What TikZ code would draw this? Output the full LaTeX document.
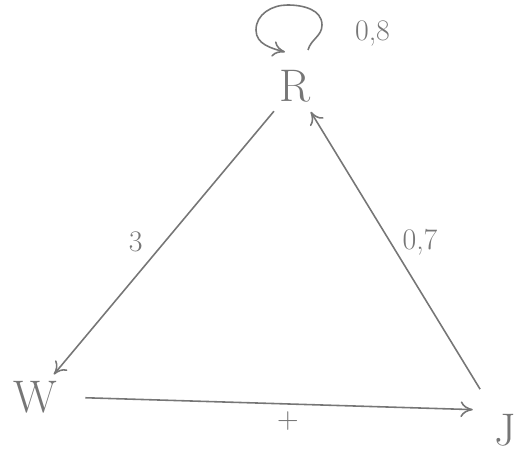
\documentclass[tikz,border=0pt]{standalone}
\usepackage{amsmath}
\usepackage{tikz}
\usetikzlibrary{arrows.meta}
\definecolor{pencil}{RGB}{118,118,118}

\begin{document}
\begin{tikzpicture}[x=1cm, y=1cm, >={To[length=7pt,width=9pt]},
    state/.style={text=pencil, font=\fontsize{26}{30}\selectfont, inner sep=2pt},
    weight/.style={text=pencil, font=\fontsize{17}{20}\selectfont},
    link/.style={draw=pencil, line width=0.9pt, ->}]
    \useasboundingbox (0,0) rectangle (10.4,9.18);

    \node[state] (R) at (5.9, 7.46) {R};
    \node[state] (W) at (0.7, 1.24) {W};
    \node[state] (J) at (10.1, 0.58) {J};

    % self-loop over R
    \draw[link] ([shift={(0.26,0.72)}]R.center) to[out=75, in=-90] ([shift={(0.54,1.22)}]R.center)
        to[out=90, in=0] ([shift={(-0.15,1.62)}]R.center)
        to[out=180, in=90] ([shift={(-0.78,1.12)}]R.center)
        to[out=-90, in=165] ([shift={(-0.2,0.68)}]R.center);
    \node[weight] (loopw) at (7.45, 8.5) {0,8};

    \draw[link, shorten <=4pt, shorten >=2pt] (R) -- node[weight, pos=0.5, left=9pt] {3} (W);
    \draw[link, shorten <=14pt, shorten >=4pt] (J) -- node[weight, pos=0.5, anchor=south west, inner sep=1pt, xshift=0pt] {0,7} (R);
    \draw[link, shorten <=14pt, shorten >=10pt] (W.east) -- node[weight, midway, below=1pt, xshift=7pt] {+} (J.north west);
\end{tikzpicture}
\end{document}
